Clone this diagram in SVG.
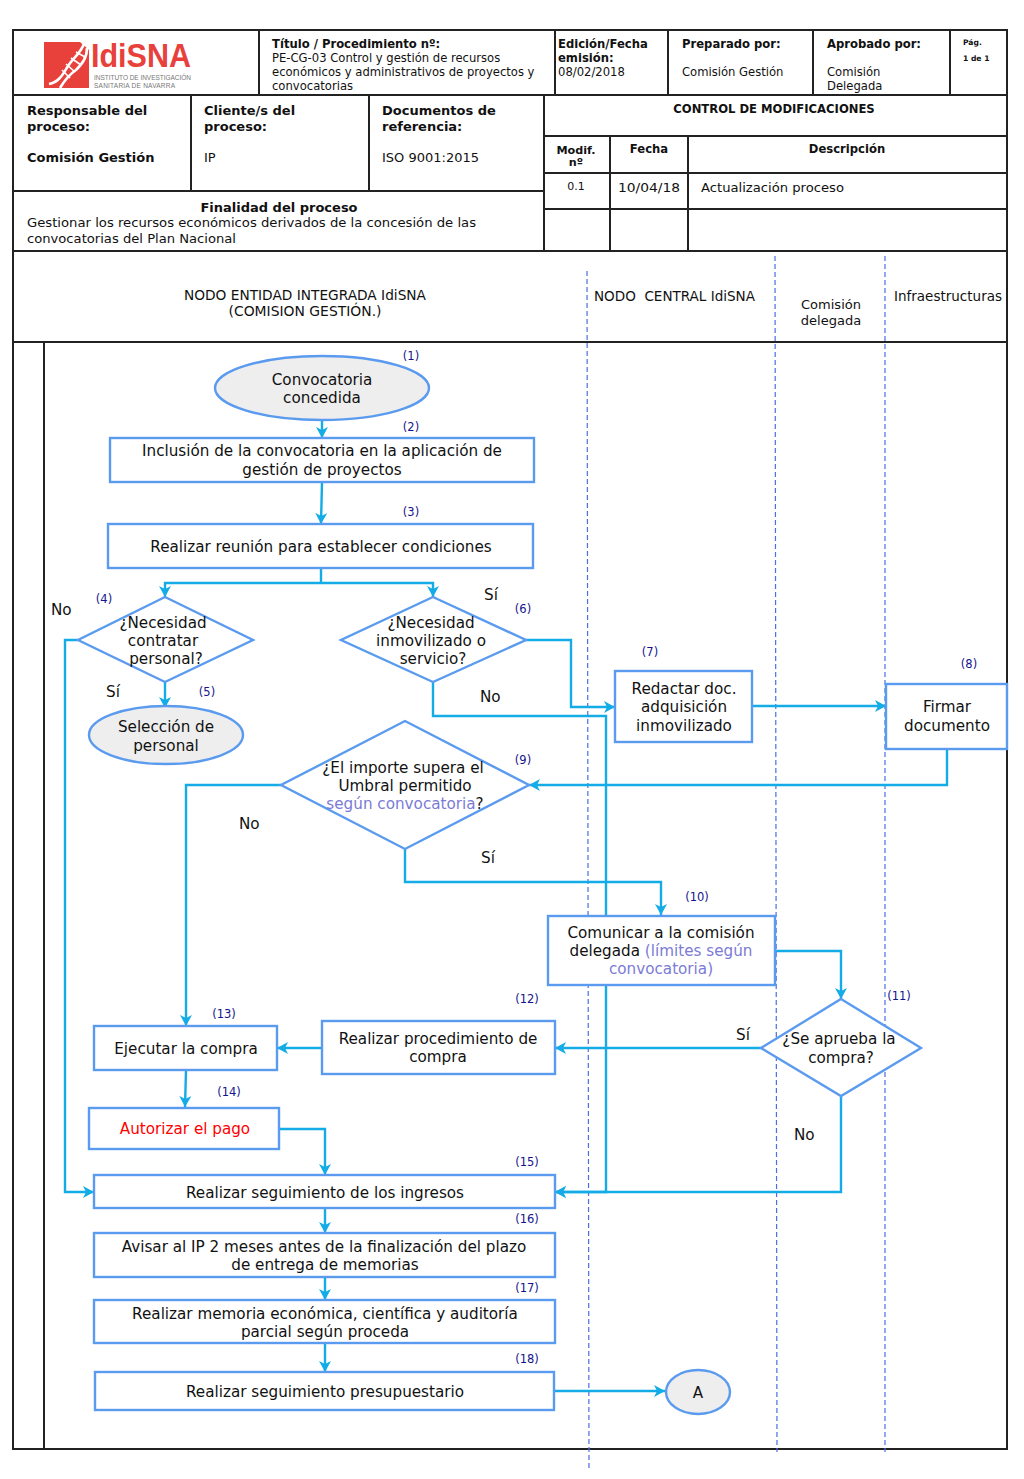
<svg xmlns="http://www.w3.org/2000/svg" width="1024" height="1479" viewBox="0 0 1024 1479">
<style>
text{font-family:"DejaVu Sans",Verdana,sans-serif;fill:#111}
.b{font-weight:bold}
.t{font-size:11.6px}
.s{font-size:13px}
.w{font-size:13.6px}
.h{font-size:13px}
.f{font-size:15.2px;text-anchor:middle}
.l{font-size:15.2px}
.n{font-size:11.5px;fill:#14148c;text-anchor:middle}
.p{fill:#7b7bd6}
.m{text-anchor:middle}
.grid{stroke:#222;stroke-width:2;fill:none}
.node{fill:#fff;stroke:#5b9bef;stroke-width:2.4}
.oval{fill:#eeeeee;stroke:#5b9bef;stroke-width:2.4}
.lane{stroke:#4a6fe0;stroke-width:1.2;stroke-dasharray:5 3;fill:none}
.c{fill:none;stroke:#14ace6;stroke-width:2.4}
.a{marker-end:url(#ah)}
.logo{font-family:"Liberation Sans",sans-serif;font-weight:bold;font-size:34px;fill:#e8413c}
.logos{font-family:"Liberation Sans",sans-serif;font-size:6.5px;fill:#777}
</style>
<defs><marker id="ah" markerWidth="14" markerHeight="14" refX="11" refY="6" orient="auto" markerUnits="userSpaceOnUse"><path d="M0,0L11,6L0,12L3,6Z" fill="#14ace6"/></marker></defs>
<rect width="1024" height="1479" fill="#fff"/>
<g id="header" class="grid">
<rect x="13" y="30" width="994" height="1419"/>
<path d="M13 95H1007M259 30V95M555 30V95M668 30V95M813 30V95M950 30V95"/>
<path d="M191 95V191M369 95V191M13 191H544M544 95V251M544 136H1007M544 173H1007M544 209H1007M610 136V251M688 136V251M13 251H1007M13 342H1007M44 342V1449"/>
</g>
<g id="logo">
<path d="M44 42H80L89 50V88H44Z" fill="#e8413c"/>
<path d="M49 84C60 82 64 72 68 66C73 58 80 54 84 44M60 88C66 78 70 74 76 70C82 64 87 58 87 48" fill="none" stroke="#fff" stroke-width="2.6"/>
<path d="M62 70L70 78M66 64L75 72M71 58L81 65M76 52L85 57" stroke="#fff" stroke-width="1.6" fill="none"/>
<text x="91" y="67" class="logo" textLength="100" lengthAdjust="spacingAndGlyphs">IdiSNA</text>
<text x="94" y="80" class="logos" textLength="97">INSTITUTO DE INVESTIGACIÓN</text>
<text x="94" y="88" class="logos" textLength="81">SANITARIA DE NAVARRA</text>
</g>
<g id="header-text">
<text x="272" y="48" class="t b">Título / Procedimiento nº:</text>
<text x="272" y="62" class="t">PE-CG-03 Control y gestión de recursos</text>
<text x="272" y="76" class="t">económicos y administrativos de proyectos y</text>
<text x="272" y="90" class="t">convocatorias</text>
<text x="558" y="48" class="t b">Edición/Fecha</text>
<text x="558" y="62" class="t b">emisión:</text>
<text x="558" y="76" class="t">08/02/2018</text>
<text x="682" y="48" class="t b">Preparado por:</text>
<text x="682" y="76" class="t">Comisión Gestión</text>
<text x="827" y="48" class="t b">Aprobado por:</text>
<text x="827" y="76" class="t">Comisión</text>
<text x="827" y="90" class="t">Delegada</text>
<text x="963" y="45" class="b" font-size="7.6">Pág.</text>
<text x="963" y="61" class="b" font-size="7.6">1 de 1</text>
<text x="27" y="115" class="h b">Responsable del</text>
<text x="27" y="131" class="h b">proceso:</text>
<text x="27" y="162" class="h b">Comisión Gestión</text>
<text x="204" y="115" class="h b">Cliente/s del</text>
<text x="204" y="131" class="h b">proceso:</text>
<text x="204" y="162" class="h">IP</text>
<text x="382" y="115" class="h b">Documentos de</text>
<text x="382" y="131" class="h b">referencia:</text>
<text x="382" y="162" class="h">ISO 9001:2015</text>
<text x="279" y="212" class="h b m">Finalidad del proceso</text>
<text x="27" y="227" class="s" textLength="449" lengthAdjust="spacingAndGlyphs">Gestionar los recursos económicos derivados de la concesión de las</text>
<text x="27" y="243" class="s" textLength="209" lengthAdjust="spacingAndGlyphs">convocatorias del Plan Nacional</text>
<text x="774" y="113" class="t b m">CONTROL DE MODIFICACIONES</text>
<text x="576" y="154" class="b m" font-size="11.2">Modif.</text>
<text x="576" y="166" class="b m" font-size="11.2">nº</text>
<text x="649" y="153" class="t b m">Fecha</text>
<text x="847" y="153" class="t b m">Descripción</text>
<text x="576" y="190" font-size="11" class="m">0.1</text>
<text x="649" y="192" class="s m" textLength="62" lengthAdjust="spacingAndGlyphs">10/04/18</text>
<text x="701" y="192" class="s" textLength="143" lengthAdjust="spacingAndGlyphs">Actualización proceso</text>
<text x="305" y="300" class="w m" textLength="242" lengthAdjust="spacingAndGlyphs">NODO ENTIDAD INTEGRADA IdiSNA</text>
<text x="305" y="316" class="w m" textLength="153" lengthAdjust="spacingAndGlyphs">(COMISION GESTIÓN.)</text>
<text x="594" y="301" class="w" xml:space="preserve" textLength="161" lengthAdjust="spacingAndGlyphs">NODO  CENTRAL IdiSNA</text>
<text x="831" y="309" class="s m">Comisión</text>
<text x="831" y="325" class="s m">delegada</text>
<text x="948" y="301" class="w m" textLength="108" lengthAdjust="spacingAndGlyphs">Infraestructuras</text>
</g>
<g id="lanes" class="lane">
<path d="M587 271L589 1470M775 256L777 1452M885 256V1452"/>
</g>
<g id="connectors" class="c">
<path class="a" d="M322 420V438"/>
<path class="a" d="M322 482L321 524"/>
<path d="M321 568V583"/>
<path class="a" d="M321 583H165V597"/>
<path class="a" d="M321 583H433V597"/>
<path class="a" d="M165 682V708"/>
<path class="a" d="M78 640H65V1192H94"/>
<path class="a" d="M526 640H571V707H615"/>
<path class="a" d="M433 682V716H606V1192H555"/>
<path class="a" d="M752 706H886"/>
<path class="a" d="M947 749V785H529"/>
<path class="a" d="M281 785H186V1026"/>
<path class="a" d="M405 849V882H661V915"/>
<path class="a" d="M775 951H841V999"/>
<path class="a" d="M761 1048H555"/>
<path class="a" d="M321 1048H277"/>
<path class="a" d="M186 1070L185 1107"/>
<path class="a" d="M279 1129H325V1175"/>
<path class="a" d="M841 1096V1192H555"/>
<path class="a" d="M325 1208V1233"/>
<path class="a" d="M325 1277V1300"/>
<path class="a" d="M325 1343V1372"/>
<path class="a" d="M554 1391H665"/>
</g>
<g id="n1"><ellipse class="oval" cx="322" cy="388" rx="107" ry="32"/><text class="f" x="322" y="385">Convocatoria</text><text class="f" x="322" y="403">concedida</text></g>
<g id="n2"><rect class="node" x="110" y="438" width="424" height="44"/><text class="f" x="322" y="456">Inclusión de la convocatoria en la aplicación de</text><text class="f" x="322" y="475">gestión de proyectos</text></g>
<g id="n3"><rect class="node" x="108" y="524" width="425" height="44"/><text class="f" x="321" y="552">Realizar reunión para establecer condiciones</text></g>
<g id="n4"><polygon class="node" points="165,597 253,640 165,682 78,640"/><text class="f" x="163" y="628">¿Necesidad</text><text class="f" x="163" y="646">contratar</text><text class="f" x="166" y="664">personal?</text></g>
<g id="n5"><ellipse class="oval" cx="166" cy="735" rx="77" ry="29"/><text class="f" x="166" y="732">Selección de</text><text class="f" x="166" y="751">personal</text></g>
<g id="n6"><polygon class="node" points="433,597 526,640 433,682 341,640"/><text class="f" x="431" y="628">¿Necesidad</text><text class="f" x="431" y="646">inmovilizado o</text><text class="f" x="433" y="664">servicio?</text></g>
<g id="n7"><rect class="node" x="615" y="671" width="137" height="71"/><text class="f" x="684" y="694">Redactar doc.</text><text class="f" x="684" y="712">adquisición</text><text class="f" x="684" y="731">inmovilizado</text></g>
<g id="n8"><rect class="node" x="886" y="684" width="121" height="65"/><text class="f" x="947" y="712">Firmar</text><text class="f" x="947" y="731">documento</text></g>
<g id="n9"><polygon class="node" points="405,721 529,785 405,849 281,785"/><text class="f" x="403" y="773">¿El importe supera el</text><text class="f" x="405" y="791">Umbral permitido</text><text class="f" x="405" y="809"><tspan class="p">según convocatoria</tspan>?</text></g>
<g id="n10"><rect class="node" x="548" y="916" width="227" height="69"/><text class="f" x="661" y="938">Comunicar a la comisión</text><text class="f" x="661" y="956">delegada <tspan class="p">(límites según</tspan></text><text class="f p" x="661" y="974">convocatoria)</text></g>
<g id="n11"><polygon class="node" points="841,999 921,1048 841,1096 761,1048"/><text class="f" x="839" y="1044">¿Se aprueba la</text><text class="f" x="841" y="1063">compra?</text></g>
<g id="n12"><rect class="node" x="322" y="1021" width="233" height="53"/><text class="f" x="438" y="1044">Realizar procedimiento de</text><text class="f" x="438" y="1062">compra</text></g>
<g id="n13"><rect class="node" x="94" y="1026" width="183" height="44"/><text class="f" x="186" y="1054">Ejecutar la compra</text></g>
<g id="n14"><rect class="node" x="89" y="1108" width="190" height="41"/><text class="f" x="185" y="1134" style="fill:#f00">Autorizar el pago</text></g>
<g id="n15"><rect class="node" x="94" y="1175" width="461" height="33"/><text class="f" x="325" y="1198">Realizar seguimiento de los ingresos</text></g>
<g id="n16"><rect class="node" x="94" y="1233" width="461" height="44"/><text class="f" x="324" y="1252">Avisar al IP 2 meses antes de la finalización del plazo</text><text class="f" x="325" y="1270">de entrega de memorias</text></g>
<g id="n17"><rect class="node" x="94" y="1300" width="461" height="43"/><text class="f" x="325" y="1319">Realizar memoria económica, científica y auditoría</text><text class="f" x="325" y="1337">parcial según proceda</text></g>
<g id="n18"><rect class="node" x="95" y="1372" width="459" height="38"/><text class="f" x="325" y="1397">Realizar seguimiento presupuestario</text></g>
<g id="nA"><ellipse class="oval" cx="698" cy="1392" rx="32" ry="22"/><text class="f" x="698" y="1398">A</text></g>
<g id="labels">
<text class="l" x="51" y="615">No</text><text class="l" x="106" y="697">Sí</text><text class="l" x="484" y="600">Sí</text><text class="l" x="480" y="702">No</text><text class="l" x="239" y="829">No</text><text class="l" x="481" y="863">Sí</text><text class="l" x="736" y="1040">Sí</text><text class="l" x="794" y="1140">No</text>
<text class="n" x="411" y="360">(1)</text><text class="n" x="411" y="431">(2)</text><text class="n" x="411" y="516">(3)</text><text class="n" x="104" y="603">(4)</text><text class="n" x="207" y="696">(5)</text><text class="n" x="523" y="613">(6)</text><text class="n" x="650" y="656">(7)</text><text class="n" x="969" y="668">(8)</text><text class="n" x="523" y="764">(9)</text><text class="n" x="697" y="901">(10)</text><text class="n" x="899" y="1000">(11)</text><text class="n" x="527" y="1003">(12)</text><text class="n" x="224" y="1018">(13)</text><text class="n" x="229" y="1096">(14)</text><text class="n" x="527" y="1166">(15)</text><text class="n" x="527" y="1223">(16)</text><text class="n" x="527" y="1292">(17)</text><text class="n" x="527" y="1363">(18)</text>
</g>
</svg>
